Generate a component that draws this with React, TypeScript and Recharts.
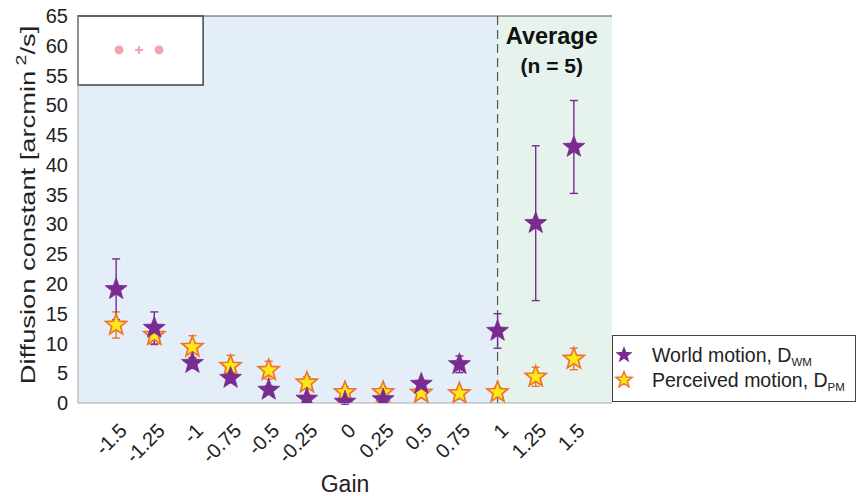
import {
  ScatterChart,
  Scatter,
  XAxis,
  YAxis,
  ErrorBar,
  ReferenceArea,
  ReferenceLine,
  ReferenceDot,
  Legend,
  Label,
} from 'recharts'

const gains = [-1.5, -1.25, -1, -0.75, -0.5, -0.25, 0, 0.25, 0.5, 0.75, 1, 1.25, 1.5]
const worldMotion = [19.1, 12.6, 6.7, 4.2, 2.2, 0.7, 0.2, 0.6, 3.2, 6.5, 12.1, 30.2, 43.0]
const worldErr = [5.1, 2.7, 0.9, 0.8, 0.6, 0.5, 0.4, 0.5, 0.6, 1.4, 2.9, 13.0, 7.8]
const perceivedMotion = [13.1, 11.4, 9.4, 6.2, 5.5, 3.4, 1.8, 1.8, 1.7, 1.6, 1.8, 4.4, 7.4]
const perceivedErr = [2.2, 1.6, 1.9, 1.8, 1.5, 1.0, 0.9, 0.8, 0.7, 0.6, 0.8, 1.6, 1.8]
const yTicks = [0, 5, 10, 15, 20, 25, 30, 35, 40, 45, 50, 55, 60, 65]

const PURPLE = '#7A2B8F'
const YELLOW = '#FFE619'
const ORANGE = '#EC7430'
const FONT = '"Liberation Sans", Arial, sans-serif'

const worldData = gains.map((g, i) => ({ gain: g, value: worldMotion[i], err: worldErr[i] }))
const perceivedData = gains.map((g, i) => ({ gain: g, value: perceivedMotion[i], err: perceivedErr[i] }))

function starPoints(cx: number, cy: number, R: number, r: number): string {
  const pts: string[] = []
  for (let k = 0; k < 10; k++) {
    const a = -Math.PI / 2 + (k * Math.PI) / 5
    const rad = k % 2 === 0 ? R : r
    pts.push(`${cx + rad * Math.cos(a)},${cy + rad * Math.sin(a)}`)
  }
  return pts.join(' ')
}

function PurpleStar(props: any) {
  const { cx, cy } = props
  if (cx == null || cy == null) return null
  return <polygon points={starPoints(cx, cy, 11.5, 4.8)} fill={PURPLE} stroke={PURPLE} strokeWidth={0.8} />
}

function YellowStar(props: any) {
  const { cx, cy } = props
  if (cx == null || cy == null) return null
  return <polygon points={starPoints(cx, cy, 11, 4.7)} fill={YELLOW} stroke={ORANGE} strokeWidth={1.7} />
}

function GainTick(props: any) {
  const { x, y, payload } = props
  const ax = x + 7
  const ay = y + 16
  return (
    <text
      x={ax}
      y={ay}
      transform={`rotate(-45 ${ax} ${ay})`}
      textAnchor="end"
      dy="0.35em"
      fontSize={20}
      fill="#222"
      fontFamily={FONT}
    >
      {payload.value}
    </text>
  )
}

function YLabel() {
  return (
    <text
      x={0}
      y={0}
      transform="translate(35 205) rotate(-90) scale(1.3 1)"
      textAnchor="middle"
      fontSize={21}
      fill="#222"
      fontFamily={FONT}
    >
      Diffusion constant [arcmin
      <tspan fontSize={15} dy={-9}> 2</tspan>
      <tspan dy={9}>/s]</tspan>
    </text>
  )
}

function AverageLabel(props: any) {
  const vb = props.viewBox || {}
  const cx = vb.x + vb.width / 2 - 3
  return (
    <g fontFamily={FONT} fill="#111" fontWeight="bold">
      <text x={cx} y={vb.y + 28} textAnchor="middle" fontSize={23.5}>
        Average
      </text>
      <text x={cx} y={vb.y + 57} textAnchor="middle" fontSize={21}>
        (n = 5)
      </text>
    </g>
  )
}

function Plus(props: any) {
  const { cx, cy } = props
  return (
    <g stroke="#F4A3AC" strokeWidth={2}>
      <line x1={cx - 4} y1={cy} x2={cx + 4} y2={cy} />
      <line x1={cx} y1={cy - 4} x2={cx} y2={cy + 4} />
    </g>
  )
}

function LegendBox() {
  const row = (star: JSX.Element, name: string, sub: string) => (
    <div style={{ display: 'flex', alignItems: 'center', height: 25, lineHeight: '20px' }}>
      <svg width={24} height={24} style={{ marginRight: 15, flexShrink: 0 }}>
        {star}
      </svg>
      <span style={{ fontSize: 19.5, color: '#222', whiteSpace: 'nowrap' }}>
        {name}
        <span style={{ fontSize: 11.5, position: 'relative', top: 4, lineHeight: '12px' }}>{sub}</span>
      </span>
    </div>
  )
  return (
    <div
      style={{
        border: '1.5px solid #444',
        background: '#fff',
        boxSizing: 'border-box',
        width: 244,
        height: 67,
        padding: '6px 0 0 0',
        fontFamily: FONT,
        overflow: 'hidden',
      }}
    >
      {row(<polygon points={starPoints(11, 12, 9, 3.8)} fill={PURPLE} />, 'World motion, D', 'WM')}
      {row(
        <polygon points={starPoints(11, 12, 8.5, 3.6)} fill={YELLOW} stroke={ORANGE} strokeWidth={1.5} />,
        'Perceived motion, D',
        'PM'
      )}
    </div>
  )
}

export default function App() {
  return (
    <div style={{ position: 'absolute', left: 0, top: 0, width: 856, height: 496, background: '#fff', fontFamily: FONT }}>
      <ScatterChart width={856} height={496} margin={{ top: 16, right: 244, bottom: 0, left: 0 }}>
        <XAxis
          type="number"
          dataKey="gain"
          domain={[-1.75, 1.75]}
          ticks={gains}
          interval={0}
          tick={<GainTick />}
          tickLine={false}
          axisLine={{ stroke: '#aaa' }}
          height={93}
          allowDataOverflow
        >
          <Label value="Gain" position="insideBottom" offset={4} fontSize={23} fill="#222" fontFamily={FONT} />
        </XAxis>
        <YAxis
          type="number"
          dataKey="value"
          domain={[0, 65]}
          ticks={yTicks}
          interval={0}
          tick={{ fontSize: 20, fill: '#222', fontFamily: FONT }}
          tickLine={false}
          tickMargin={4}
          axisLine={{ stroke: '#aaa' }}
          width={78}
          label={<YLabel />}
          allowDataOverflow
        />
        <ReferenceArea x1={-1.75} x2={1} y1={0} y2={65} fill="#E3EEF8" fillOpacity={1} stroke="none" />
        <ReferenceArea x1={1} x2={1.75} y1={0} y2={65} fill="#E6F3EC" fillOpacity={1} stroke="none">
          <Label content={<AverageLabel />} />
        </ReferenceArea>
        <ReferenceLine x={1} stroke="#555" strokeDasharray="9 5" strokeWidth={1.2} />
        <ReferenceLine y={65} stroke="#555" strokeWidth={1.2} />
        <ReferenceArea
          x1={-1.75}
          x2={-0.93}
          y1={53.4}
          y2={65}
          fill="#fff"
          fillOpacity={1}
          stroke="#444"
          strokeWidth={1.5}
        />
        <ReferenceDot x={-1.481} y={59.3} r={4.5} fill="#F4A3AC" stroke="none" />
        <ReferenceDot x={-1.35} y={59.3} r={3} shape={<Plus />} />
        <ReferenceDot x={-1.219} y={59.3} r={4.5} fill="#F4A3AC" stroke="none" />
        <Legend
          layout="horizontal"
          verticalAlign="middle"
          align="center"
          content={<LegendBox />}
          wrapperStyle={{ position: 'absolute', left: 612, top: 335, width: 244, height: 67 }}
        />
        <Scatter name="Perceived motion" data={perceivedData} shape={<YellowStar />} isAnimationActive={false}>
          <ErrorBar dataKey="err" direction="y" width={4} stroke={ORANGE} strokeWidth={1.4} />
        </Scatter>
        <Scatter name="World motion" data={worldData} shape={<PurpleStar />} isAnimationActive={false}>
          <ErrorBar dataKey="err" direction="y" width={4} stroke={PURPLE} strokeWidth={1.4} />
        </Scatter>
      </ScatterChart>
    </div>
  )
}
